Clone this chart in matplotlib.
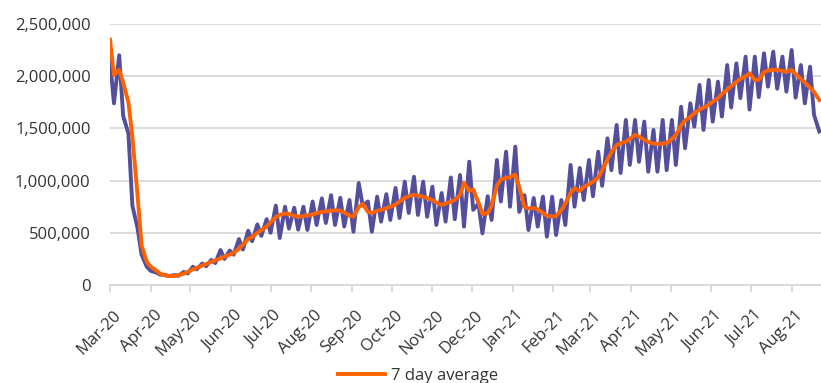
import matplotlib
matplotlib.use('Agg')
import matplotlib.pyplot as plt
import matplotlib.dates as mdates
import matplotlib.ticker as mticker
import matplotlib.transforms as mtransforms
import numpy as np
import pandas as pd

# Daily passenger numbers (thousands) at each week's
# Sunday peak and Wednesday dip, starting Sunday 1 March 2020
daily_k = [
    2150, 1740, 2200, 1620, 1450, 760, 540, 290,          # Mar-20
    175, 135, 120, 100, 95, 86, 95, 88,                   # Apr-20
    125, 110, 175, 150, 205, 180, 240, 210, 335, 250,     # May-20
    330, 290, 440, 340, 520, 420, 580, 470,               # Jun-20
    630, 500, 760, 450, 750, 540, 740, 530, 750, 527,     # Jul-20
    800, 575, 830, 594, 860, 575, 835, 560,               # Aug-20
    814, 510, 977, 760, 800, 510, 846, 607,               # Sep-20
    870, 623, 930, 642, 990, 690, 1037, 671, 990, 654,    # Oct-20
    942, 575, 881, 607, 1030, 630, 1054, 559,             # Nov-20
    1181, 720, 780, 495, 850, 623, 1197, 800, 1277, 750,  # Dec-20
    1325, 700, 860, 527, 833, 560, 846, 463,              # Jan-21
    846, 479, 814, 575, 1150, 750, 1121, 814,             # Feb-21
    1197, 850, 1277, 950, 1405, 1100, 1533, 1073,         # Mar-21
    1581, 1150, 1581, 1180, 1565, 1085, 1485, 1085,       # Apr-21
    1581, 1100, 1581, 1150, 1708, 1310, 1740, 1517, 1916, 1485,  # May-21
    1964, 1565, 1948, 1613, 2107, 1700, 2123, 1790,       # Jun-21
    2187, 1680, 2187, 1800, 2219, 1900, 2235, 1880,       # Jul-21
    2187, 1852, 2251, 1795, 2107, 1740, 2091, 1630, 1470, # Aug-21
]

# 7 day average (thousands) at the same dates
avg7_k = [
    2350, 2010, 2060, 1940, 1750, 1420, 850, 380,
    220, 175, 140, 110, 92, 86, 87, 95,
    108, 125, 150, 165, 185, 200, 220, 235, 255, 270,
    290, 306, 350, 385, 440, 460, 500, 525,
    560, 600, 650, 671, 685, 680, 660, 655, 660, 668,
    675, 688, 700, 705, 710, 716, 712, 695,
    665, 655, 745, 776, 700, 690, 710, 720,
    735, 750, 770, 800, 833, 850, 862, 856, 846, 832,
    814, 790, 766, 782, 798, 815, 862, 977,
    900, 915, 790, 680, 688, 760, 950, 1010, 1025, 1034,
    1058, 935, 750, 734, 736, 725, 690, 665,
    655, 661, 718, 780, 880, 926, 900, 940,
    965, 990, 1030, 1100, 1200, 1270, 1340, 1357,
    1373, 1400, 1437, 1420, 1389, 1370, 1355, 1350,
    1355, 1360, 1400, 1437, 1530, 1575, 1610, 1645, 1680, 1700,
    1725, 1755, 1790, 1830, 1870, 1905, 1945, 1975,
    2000, 2028, 1964, 1964, 2040, 2055, 2060, 2062,
    2050, 2043, 2060, 2020, 1975, 1940, 1890, 1850, 1772,
]

PURPLE = '#544F9C'
ORANGE = '#FF6200'
GRID = '#D9D9D9'
TEXT = '#333333'

start = pd.Timestamp('2020-03-01')
offsets = [7 * (i // 2) + 3 * (i % 2) for i in range(len(daily_k))]
dates = start + pd.to_timedelta(offsets, unit='D')
daily = np.array(daily_k) * 1000
avg7 = np.array(avg7_k) * 1000

plt.rcParams['font.family'] = ['Open Sans', 'DejaVu Sans']

fig = plt.figure(figsize=(8.21, 3.83), dpi=100)
ax = fig.add_axes([110 / 821, 1 - 285 / 383, 711 / 821, 261 / 383])

ax.plot(dates, daily, color=PURPLE, lw=2.8, solid_joinstyle='round')
avg_line, = ax.plot(dates, avg7, color=ORANGE, lw=2.8, solid_joinstyle='round')

ax.set_xlim(start, start + pd.Timedelta(days=540.3))
ax.set_ylim(0, 2500000)
ax.yaxis.set_major_locator(mticker.MultipleLocator(500000))
ax.yaxis.set_major_formatter(mticker.StrMethodFormatter('{x:,.0f}'))
ax.xaxis.set_major_locator(mdates.MonthLocator())
ax.xaxis.set_major_formatter(mdates.DateFormatter('%b-%y'))

ax.yaxis.grid(True, color=GRID, lw=1.3)
ax.set_axisbelow(True)
for side in ['left', 'right', 'top']:
    ax.spines[side].set_visible(False)
ax.spines['bottom'].set_color(GRID)
ax.spines['bottom'].set_linewidth(1.3)

ax.tick_params(axis='y', length=0, pad=14, labelsize=12, labelcolor=TEXT)
ax.tick_params(axis='x', length=5, width=1.3, color=GRID, pad=11,
               labelsize=12, labelcolor=TEXT)

shift = mtransforms.ScaledTranslation(3 / 100, 0, fig.dpi_scale_trans)
for lbl in ax.get_xticklabels():
    lbl.set_rotation(45)
    lbl.set_ha('right')
    lbl.set_va('top')
    lbl.set_rotation_mode('anchor')
    lbl.set_transform(lbl.get_transform() + shift)

fig.legend([avg_line], ['7 day average'], loc='center left',
           bbox_to_anchor=(338 / 821, 1 - 376 / 383), frameon=False,
           handlelength=2.8, handletextpad=0.35, borderpad=0,
           borderaxespad=0, fontsize=12, labelcolor=TEXT)

fig.savefig('out.png', dpi=100)
